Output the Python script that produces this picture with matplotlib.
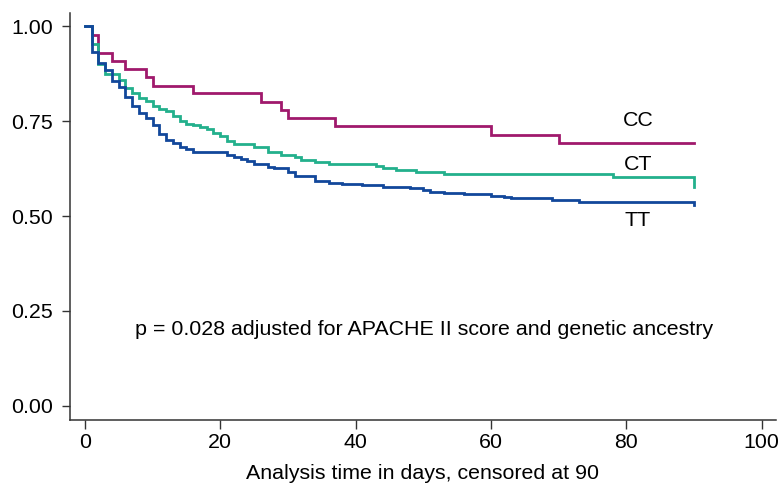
import matplotlib
matplotlib.use("Agg")
from matplotlib import pyplot as plt

# Kaplan-Meier survival by genotype
cc_time = [0, 1, 2, 4, 6, 9, 10, 16, 26, 29, 30, 37, 60, 70, 90]
cc_surv = [1.0, 0.976, 0.93, 0.909, 0.886, 0.865, 0.842, 0.823, 0.80, 0.779,
           0.757, 0.737, 0.713, 0.693, 0.693]

ct_time = [0, 1, 2, 3, 5, 6, 7, 8, 9, 10, 11, 12, 13, 14, 15, 16, 17, 18, 19,
           20, 21, 22, 25, 27, 29, 31, 32, 34, 36, 43, 44, 46, 49, 53, 78, 90]
ct_surv = [1.0, 0.954, 0.90, 0.875, 0.858, 0.838, 0.823, 0.812, 0.803, 0.789,
           0.781, 0.777, 0.763, 0.751, 0.742, 0.739, 0.735, 0.728, 0.719,
           0.711, 0.698, 0.689, 0.681, 0.669, 0.662, 0.656, 0.647, 0.642,
           0.637, 0.632, 0.626, 0.620, 0.615, 0.611, 0.603, 0.576]

tt_time = [0, 1, 2, 3, 4, 5, 6, 7, 8, 9, 10, 11, 12, 13, 14, 15, 16, 21, 22,
           23, 24, 25, 27, 28, 30, 31, 34, 36, 38, 41, 44, 48, 50, 51, 53, 56,
           60, 62, 63, 69, 73, 90]
tt_surv = [1.0, 0.932, 0.902, 0.884, 0.855, 0.840, 0.814, 0.790, 0.772, 0.757,
           0.739, 0.716, 0.700, 0.691, 0.682, 0.676, 0.669, 0.660, 0.656,
           0.650, 0.646, 0.636, 0.630, 0.626, 0.615, 0.605, 0.592, 0.588,
           0.585, 0.582, 0.577, 0.575, 0.568, 0.564, 0.561, 0.559, 0.554,
           0.550, 0.547, 0.543, 0.538, 0.529]

groups = ["CC", "CT", "TT"]
colors = ["#a0196c", "#23b08c", "#12479b"]
label_y = [0.751, 0.637, 0.489]

xticks = [0, 20, 40, 60, 80, 100]
yticks = [0.0, 0.25, 0.5, 0.75, 1.0]
ytick_labels = ["0.00", "0.25", "0.50", "0.75", "1.00"]

plt.rcParams['font.family'] = ['Liberation Sans', 'DejaVu Sans']
fs = 15.4

fig = plt.figure(figsize=(7.8, 4.86), dpi=100)
ax = fig.add_axes([0.0897, 0.1358, 0.905, 0.837])

for t, s, c in zip([cc_time, ct_time, tt_time], [cc_surv, ct_surv, tt_surv], colors):
    ax.step(t, s, where="post", color=c, lw=2.0, solid_joinstyle="miter")

for g, y in zip(groups, label_y):
    ax.text(81.7, y, g, fontsize=fs, ha="center", va="center", color="black")

ax.text(50.1, 0.2, "p = 0.028 adjusted for APACHE II score and genetic ancestry",
        fontsize=fs, ha="center", va="center")

ax.set_xlim(-2.2, 102.1)
ax.set_ylim(-0.037, 1.034)
ax.set_xticks(xticks)
ax.set_yticks(yticks)
ax.set_yticklabels(ytick_labels)
ax.set_xlabel("Analysis time in days, censored at 90", fontsize=fs, labelpad=8.5)

for side in ["top", "right"]:
    ax.spines[side].set_visible(False)
for side in ["left", "bottom"]:
    ax.spines[side].set_color("#333333")
    ax.spines[side].set_linewidth(1.1)
ax.tick_params(axis="y", direction="out", length=6, width=1, pad=6,
               labelsize=fs, colors="#333333", labelcolor="black")
ax.tick_params(axis="x", direction="out", length=6.5, width=1, pad=3,
               labelsize=fs, colors="#333333", labelcolor="black")

fig.savefig("out.png", dpi=100)
